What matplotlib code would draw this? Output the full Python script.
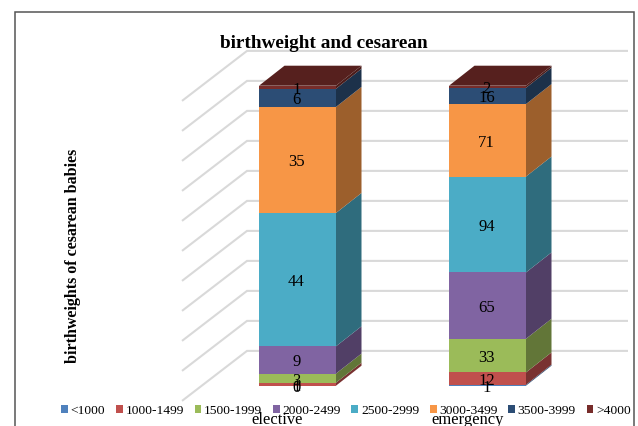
import matplotlib
matplotlib.use('Agg')
import matplotlib.pyplot as plt
from matplotlib.colors import to_rgb
from matplotlib.patches import Patch, Polygon, Rectangle

plt.rcParams['font.family'] = ['Liberation Serif', 'DejaVu Serif']

# DATA
title = 'birthweight and cesarean'
y_label = 'birthweights of cesarean babies'
groups = ['elective', 'emergency']
bins = ['<1000', '1000-1499', '1500-1999', '2000-2499', '2500-2999', '3000-3499', '3500-3999', '>4000']
elective = [0, 1, 3, 9, 44, 35, 6, 1]
emergency = [1, 12, 33, 65, 94, 71, 16, 2]
colors = ['#4F81BD', '#C0504D', '#9BBB59', '#8064A2', '#4BACC6', '#F79646', '#2C4D75', '#772C2A']
grid_ticks = [0, 10, 20, 30, 40, 50, 60, 70, 80, 90, 100]

# chart geometry, 190 px between bars and 3 px per percent
PX_X = 190.0
PX_Y = 3.0
X0 = 297.5
Y0 = 385.7
BAR_W = 77 / PX_X
DX = 25.5 / PX_X
DY = 20 / PX_Y


def shade(color, factor):
    return tuple(c * factor for c in to_rgb(color))


fig = plt.figure(figsize=(6.38, 4.26), dpi=100)
ax = fig.add_axes([0, 0, 1, 1])
ax.set_xlim(-X0 / PX_X, (638 - X0) / PX_X)
ax.set_ylim(-(426 - Y0) / PX_Y, Y0 / PX_Y)
ax.axis('off')

# outer frame
fig.add_artist(Rectangle((15.5 / 638, -0.05), 618 / 638, 1.05 - 11.5 / 426, transform=fig.transFigure,
                         fill=False, edgecolor='#555555', linewidth=1.1))

# gridlines: side wall then back wall
left_x = (182 - X0) / PX_X
back_x = (247 - X0) / PX_X
right_x = (628 - X0) / PX_X
for t in grid_ticks:
    back_y = t + 11.6
    ax.plot([left_x, back_x, right_x], [back_y - 50 / PX_Y, back_y, back_y], color='#d9d9d9', linewidth=1.5,
            solid_joinstyle='miter', solid_capstyle='butt', zorder=1)

for i, values in enumerate([elective, emergency]):
    total = sum(values)
    bottom = 0.0
    left = i - BAR_W / 2
    right = i + BAR_W / 2
    for j, v in enumerate(values):
        h = 100.0 * v / total
        top = bottom + h
        if v > 0:
            ax.add_patch(Rectangle((left, bottom), BAR_W, h, facecolor=colors[j], edgecolor='none', zorder=3))
            ax.add_patch(Polygon([(right, bottom), (right + DX, bottom + DY), (right + DX, top + DY), (right, top)],
                                 facecolor=shade(colors[j], 0.63), edgecolor='none', zorder=2))
        # labels sit a little under the segment centre in the reference
        ax.text(i - 1 / PX_X, bottom + h / 2 - 0.8, str(v), ha='center', va='center', fontsize=12, color='black',
                zorder=5)
        bottom = top
    ax.add_patch(Polygon([(left, 100), (left + DX, 100 + DY), (right + DX, 100 + DY), (right, 100)],
                         facecolor=shade(colors[-1], 0.72), edgecolor='none', zorder=2))
    ax.text(i - 20 / PX_X, -(419.5 - Y0) / PX_Y, groups[i], ha='center', va='center', fontsize=11.9, zorder=4)

ax.text((324 - X0) / PX_X, (Y0 - 44) / PX_Y, title, ha='center', va='center', fontsize=13.9, fontweight='bold',
        zorder=6)
ax.text((73 - X0) / PX_X, (Y0 - 256) / PX_Y, y_label, ha='center', va='center', rotation=90, fontsize=11.5,
        fontweight='bold')

handles = [Patch(facecolor=c, edgecolor='none', label=b) for c, b in zip(colors, bins)]
ax.legend(handles=handles, ncol=8, loc='center', bbox_to_anchor=(346 / 638, 1 - 411 / 426),
          bbox_transform=fig.transFigure, frameon=False, fontsize=9.7, handlelength=0.5, handleheight=0.5,
          handletextpad=0.2, columnspacing=0.8, borderpad=0, borderaxespad=0, labelspacing=0)

fig.savefig('out.png', dpi=100)
